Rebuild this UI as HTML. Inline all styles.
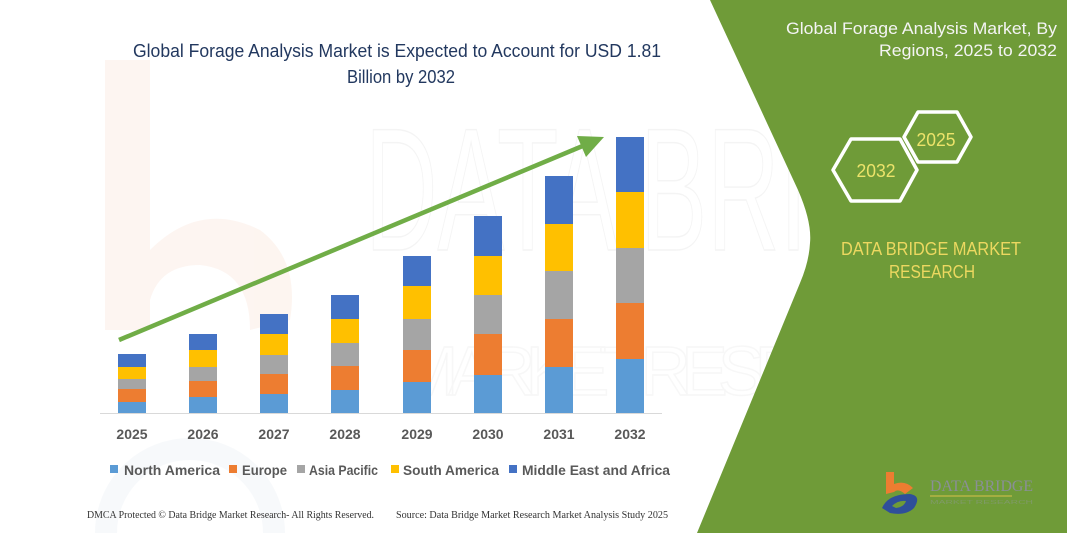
<!DOCTYPE html>
<html>
<head>
<meta charset="utf-8">
<style>
  html,body{margin:0;padding:0;background:#fff;width:1067px;height:533px;overflow:hidden;}
  svg{display:block;}
</style>
</head>
<body>
<svg width="1067" height="533" viewBox="0 0 1067 533" xmlns="http://www.w3.org/2000/svg">
  <defs>
    <clipPath id="frame"><rect x="0" y="0" width="1067" height="533"/></clipPath>
  </defs>
  <g clip-path="url(#frame)">
  <rect x="0" y="0" width="1067" height="533" fill="#ffffff"/>

  <!-- faint watermark -->
  <g opacity="0.45">
    <path d="M105 60 L150 60 L150 250 Q200 200 260 230 Q300 260 290 320 L250 330 Q250 270 200 265 Q160 265 150 300 L150 330 L105 330 Z" fill="#fbe9df"/>
    <path d="M106 533 A84 84 0 1 1 274 533" fill="none" stroke="#eef2f7" stroke-width="22"/>
    <text x="365" y="250" font-family="Liberation Sans, sans-serif" font-size="175" fill="none" stroke="#e8e8e8" stroke-width="1.5" textLength="660" lengthAdjust="spacingAndGlyphs">DATA BRIDGE</text>
    <text x="400" y="395" font-family="Liberation Sans, sans-serif" font-size="70" fill="none" stroke="#eeeeee" stroke-width="1.5" textLength="560" lengthAdjust="spacing">MARKET RESEARCH</text>
  </g>

  <!-- green right panel -->
  <path d="M710 0 L798 190 Q812 222 810 243 Q809 262 800 283 L697 533 L1067 533 L1067 0 Z" fill="#6f9b38"/>

  <!-- title -->
  <g font-family="Liberation Sans, sans-serif" fill="#22385f" font-size="18">
    <text x="133" y="57" textLength="528" lengthAdjust="spacingAndGlyphs">Global Forage Analysis Market is Expected to Account for USD 1.81</text>
    <text x="347" y="83" textLength="108" lengthAdjust="spacingAndGlyphs">Billion by 2032</text>
  </g>

  <!-- axis line -->
  <line x1="100" y1="413.5" x2="662" y2="413.5" stroke="#d9d9d9" stroke-width="1"/>

  <!-- bars -->
  <g>
    <rect x="118" y="354" width="28" height="13" fill="#4472c4"/>
    <rect x="118" y="367" width="28" height="12" fill="#ffc000"/>
    <rect x="118" y="379" width="28" height="10" fill="#a5a5a5"/>
    <rect x="118" y="389" width="28" height="13" fill="#ed7d31"/>
    <rect x="118" y="402" width="28" height="11" fill="#5b9bd5"/>

    <rect x="189" y="334" width="28" height="16" fill="#4472c4"/>
    <rect x="189" y="350" width="28" height="17" fill="#ffc000"/>
    <rect x="189" y="367" width="28" height="14" fill="#a5a5a5"/>
    <rect x="189" y="381" width="28" height="16" fill="#ed7d31"/>
    <rect x="189" y="397" width="28" height="16" fill="#5b9bd5"/>

    <rect x="260" y="314" width="28" height="20" fill="#4472c4"/>
    <rect x="260" y="334" width="28" height="21" fill="#ffc000"/>
    <rect x="260" y="355" width="28" height="19" fill="#a5a5a5"/>
    <rect x="260" y="374" width="28" height="20" fill="#ed7d31"/>
    <rect x="260" y="394" width="28" height="19" fill="#5b9bd5"/>

    <rect x="331" y="295" width="28" height="24" fill="#4472c4"/>
    <rect x="331" y="319" width="28" height="24" fill="#ffc000"/>
    <rect x="331" y="343" width="28" height="23" fill="#a5a5a5"/>
    <rect x="331" y="366" width="28" height="24" fill="#ed7d31"/>
    <rect x="331" y="390" width="28" height="23" fill="#5b9bd5"/>

    <rect x="403" y="256" width="28" height="30" fill="#4472c4"/>
    <rect x="403" y="286" width="28" height="33" fill="#ffc000"/>
    <rect x="403" y="319" width="28" height="31" fill="#a5a5a5"/>
    <rect x="403" y="350" width="28" height="32" fill="#ed7d31"/>
    <rect x="403" y="382" width="28" height="31" fill="#5b9bd5"/>

    <rect x="474" y="216" width="28" height="40" fill="#4472c4"/>
    <rect x="474" y="256" width="28" height="39" fill="#ffc000"/>
    <rect x="474" y="295" width="28" height="39" fill="#a5a5a5"/>
    <rect x="474" y="334" width="28" height="41" fill="#ed7d31"/>
    <rect x="474" y="375" width="28" height="38" fill="#5b9bd5"/>

    <rect x="545" y="176" width="28" height="48" fill="#4472c4"/>
    <rect x="545" y="224" width="28" height="47" fill="#ffc000"/>
    <rect x="545" y="271" width="28" height="48" fill="#a5a5a5"/>
    <rect x="545" y="319" width="28" height="48" fill="#ed7d31"/>
    <rect x="545" y="367" width="28" height="46" fill="#5b9bd5"/>

    <rect x="616" y="137" width="28" height="55" fill="#4472c4"/>
    <rect x="616" y="192" width="28" height="56" fill="#ffc000"/>
    <rect x="616" y="248" width="28" height="55" fill="#a5a5a5"/>
    <rect x="616" y="303" width="28" height="56" fill="#ed7d31"/>
    <rect x="616" y="359" width="28" height="54" fill="#5b9bd5"/>
  </g>

  <!-- arrow -->
  <line x1="119" y1="340" x2="585" y2="145" stroke="#70ad47" stroke-width="4.5"/>
  <polygon points="604,137 577,136 586,157" fill="#70ad47"/>

  <!-- year labels -->
  <g font-family="Liberation Sans, sans-serif" font-weight="bold" font-size="14" fill="#595959" text-anchor="middle">
    <text x="132" y="439">2025</text>
    <text x="203" y="439">2026</text>
    <text x="274" y="439">2027</text>
    <text x="345" y="439">2028</text>
    <text x="417" y="439">2029</text>
    <text x="488" y="439">2030</text>
    <text x="559" y="439">2031</text>
    <text x="630" y="439">2032</text>
  </g>

  <!-- legend -->
  <g font-family="Liberation Sans, sans-serif" font-weight="bold" font-size="14" fill="#595959">
    <rect x="110" y="465" width="8" height="8" fill="#5b9bd5"/>
    <text x="124" y="475" textLength="96" lengthAdjust="spacingAndGlyphs">North America</text>
    <rect x="229" y="465" width="8" height="8" fill="#ed7d31"/>
    <text x="242" y="475" textLength="45" lengthAdjust="spacingAndGlyphs">Europe</text>
    <rect x="297" y="465" width="8" height="8" fill="#a5a5a5"/>
    <text x="309" y="475" textLength="69" lengthAdjust="spacingAndGlyphs">Asia Pacific</text>
    <rect x="391" y="465" width="8" height="8" fill="#ffc000"/>
    <text x="403" y="475" textLength="96" lengthAdjust="spacingAndGlyphs">South America</text>
    <rect x="509" y="465" width="8" height="8" fill="#4472c4"/>
    <text x="522" y="475" textLength="148" lengthAdjust="spacingAndGlyphs">Middle East and Africa</text>
  </g>

  <!-- footer -->
  <g font-family="Liberation Serif, serif" font-size="10" fill="#333333">
    <text x="87" y="518" textLength="287" lengthAdjust="spacingAndGlyphs">DMCA Protected © Data Bridge Market Research-  All Rights Reserved.</text>
    <text x="396" y="518" textLength="272" lengthAdjust="spacingAndGlyphs">Source: Data Bridge Market Research  Market Analysis Study 2025</text>
  </g>

  <!-- right panel text -->
  <g font-family="Liberation Sans, sans-serif" font-size="17" fill="#f4f4f4" text-anchor="end">
    <text x="1057" y="34" textLength="271" lengthAdjust="spacingAndGlyphs">Global Forage Analysis Market, By</text>
    <text x="1057" y="56" textLength="178" lengthAdjust="spacingAndGlyphs">Regions, 2025 to 2032</text>
  </g>

  <!-- hexagons -->
  <polygon points="904,137 918,112 957,112 971,137 957,162 918,162" fill="none" stroke="#ffffff" stroke-width="3.5" stroke-linejoin="round"/>
  <polygon points="833,170 851,139 900,139 917,170 900,201 851,201" fill="none" stroke="#ffffff" stroke-width="3.5" stroke-linejoin="round"/>
  <g font-family="Liberation Sans, sans-serif" font-size="18" fill="#ece36a" text-anchor="middle">
    <text x="936" y="146" textLength="39" lengthAdjust="spacingAndGlyphs">2025</text>
    <text x="876" y="177" textLength="39" lengthAdjust="spacingAndGlyphs">2032</text>
  </g>

  <g font-family="Liberation Sans, sans-serif" font-size="18" fill="#ecd860" text-anchor="middle">
    <text x="931" y="255" textLength="180" lengthAdjust="spacingAndGlyphs">DATA BRIDGE MARKET</text>
    <text x="932" y="278" textLength="86" lengthAdjust="spacingAndGlyphs">RESEARCH</text>
  </g>

  <!-- logo -->
  <g>
    <path d="M886 472 L894 472 L894 484 Q905 480 913 488 L905 494 Q898 488 894 492 L886 494 Z" fill="#ed7d31"/>
    <path d="M882 508 Q888 494 910 494 Q922 496 914 508 Q906 516 890 513 Z" fill="#2f4f9a"/>
    <path d="M892 506 Q898 500 906 501 Q904 507 896 508 Z" fill="#6f9b38"/>
    <text x="930" y="491" font-family="Liberation Serif, serif" font-size="16" fill="#8a8f96" textLength="103" lengthAdjust="spacingAndGlyphs">DATA BRIDGE</text>
    <line x1="930" y1="496" x2="1012" y2="496" stroke="#d8c24a" stroke-width="1"/>
    <text x="930" y="504" font-family="Liberation Sans, sans-serif" font-size="5" fill="#7f9a66" textLength="103" lengthAdjust="spacingAndGlyphs">MARKET RESEARCH</text>
  </g>
  </g>
</svg>
</body>
</html>
